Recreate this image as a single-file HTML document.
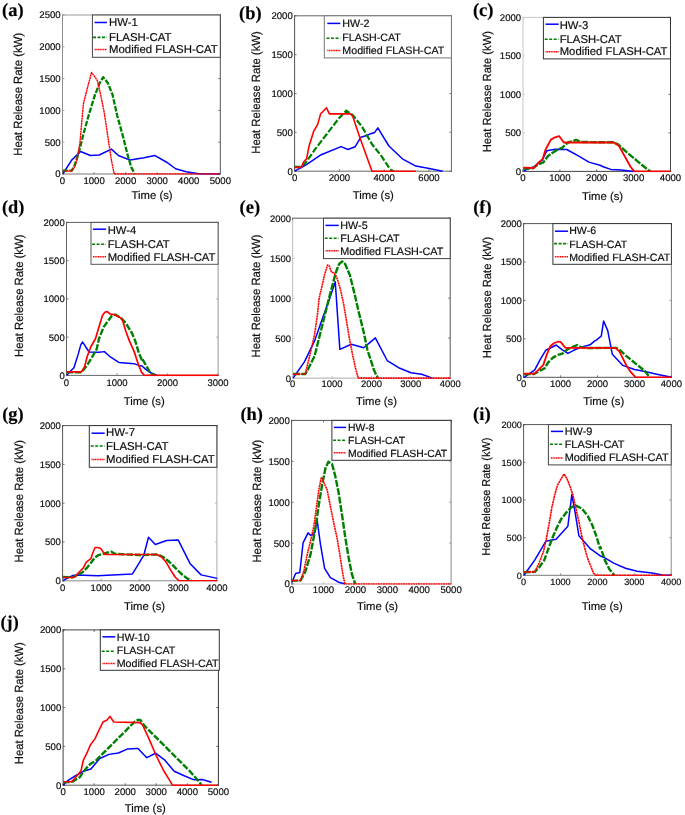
<!DOCTYPE html>
<html><head><meta charset="utf-8"><title>Heat Release Rate comparison</title>
<style>
html,body{margin:0;padding:0;background:#fff;}
body{width:685px;height:815px;overflow:hidden;}
svg{display:block;will-change:transform;}
text{font-family:"Liberation Sans", sans-serif;fill:#0d0d0d;stroke:#0d0d0d;stroke-width:0.18px;text-rendering:geometricPrecision;}
</style></head><body>
<svg width="685" height="815" viewBox="0 0 685 815">
<rect width="685" height="815" fill="#fff"/>
<g><text x="2" y="16.1" style="font-family:'Liberation Serif', serif;font-weight:bold;font-size:18.5px;fill:#000">(a)</text>
<clipPath id="ca"><rect x="62.5" y="14" width="158.5" height="160.8"/></clipPath>
<path d="M62.5 14.5V174.5" stroke="#8c8c8c" stroke-width="1" fill="none"/>
<path d="M62 15H220.8" stroke="#999" stroke-width="1" fill="none"/>
<path d="M220.3 14.5V174.5" stroke="#555" stroke-width="1" fill="none"/>
<path d="M62 174H220.8" stroke="#777" stroke-width="1" fill="none"/>
<path d="M62.5 174h2 M62.5 142.2h2 M62.5 110.4h2 M62.5 78.6h2 M62.5 46.8h2 M62.5 15h2" stroke="#8c8c8c" stroke-width="0.8" fill="none"/>
<path d="M220.3 174h-2 M220.3 142.2h-2 M220.3 110.4h-2 M220.3 78.6h-2 M220.3 46.8h-2 M220.3 15h-2" stroke="#555" stroke-width="0.8" fill="none"/>
<path d="M62.5 174v-2 M94.06 174v-2 M125.62 174v-2 M157.18 174v-2 M188.74 174v-2 M220.3 174v-2" stroke="#777" stroke-width="0.8" fill="none"/>
<path d="M62.5 15v2 M94.06 15v2 M125.62 15v2 M157.18 15v2 M188.74 15v2 M220.3 15v2" stroke="#999" stroke-width="0.8" fill="none"/>
<text x="60.7" y="177.46" text-anchor="end" font-size="9.6">0</text>
<text x="60.7" y="145.66" text-anchor="end" font-size="9.6">500</text>
<text x="60.7" y="113.86" text-anchor="end" font-size="9.6">1000</text>
<text x="60.7" y="82.06" text-anchor="end" font-size="9.6">1500</text>
<text x="60.7" y="50.26" text-anchor="end" font-size="9.6">2000</text>
<text x="60.7" y="18.46" text-anchor="end" font-size="9.6">2500</text>
<text x="62.5" y="184" text-anchor="middle" font-size="9.6">0</text>
<text x="94.06" y="184" text-anchor="middle" font-size="9.6">1000</text>
<text x="125.62" y="184" text-anchor="middle" font-size="9.6">2000</text>
<text x="157.18" y="184" text-anchor="middle" font-size="9.6">3000</text>
<text x="188.74" y="184" text-anchor="middle" font-size="9.6">4000</text>
<text x="220.3" y="184" text-anchor="middle" font-size="9.6">5000</text>
<text transform="translate(21.9 94.3) rotate(-90) scale(1 1.05)" text-anchor="middle" font-size="11.35">Heat Release Rate (kW)</text>
<text x="152.1" y="199.2" text-anchor="middle" font-size="11.3">Time (s)</text>
<g clip-path="url(#ca)" fill="none" stroke-linejoin="round">
<path d="M62.8 174 L71.68 160.11 L80.55 151.47 L90.36 155.44 L99.24 154.97 L111.39 149.13 L118.39 155.44 L130.07 160.11 L144.09 157.77 L154.6 155.44 L166.28 161.98 L175.62 168.75 L186.13 171.79 L200.15 174 L220 174" stroke="#0000ff" stroke-width="1.5"/>
<path d="M62.34 170.62 L71.68 170.62 L74.01 167.12 L78.69 153.1 L83.36 134.42 L89.2 113.39 L95.04 94.71 L99.71 83.03 L103.21 77.19 L107.88 83.03 L112.55 94.71 L117.23 115.73 L123.07 136.75 L127.74 155.44 L131.24 167.12 L134.74 174" stroke="#008000" stroke-width="2.3" stroke-dasharray="5.5 1.5"/>
<path d="M62.34 171.09 L71.68 171.09 L74.48 167.12 L76.35 162.45 L79.85 143.76 L83.36 104.05 L86.86 90.04 L91.53 72.52 L95.04 77.19 L97.37 80.69 L100.88 95.88 L104.38 113.39 L107.88 136.75 L111.39 160.11 L114.19 174 L220 174" stroke="#ff0000" stroke-width="1.4" stroke-dasharray="2.2 0.4"/>
</g>
<rect x="92.4" y="15" width="127.9" height="42.3" fill="#fff" stroke="#444" stroke-width="1"/>
<path d="M94.6 22.5H106.9" stroke="#0000ff" stroke-width="1.5"/>
<path d="M93 37.4H106.9" stroke="#008000" stroke-width="1.6" stroke-dasharray="3 1.5"/>
<path d="M94.6 49.6H106.9" stroke="#ff0000" stroke-width="1.5" stroke-dasharray="1.2 0.5"/>
<text x="109" y="26.3" font-size="11.4">HW-1</text>
<text x="109" y="40.7" font-size="11.4">FLASH-CAT</text>
<text x="109" y="53.4" font-size="11.4">Modified FLASH-CAT</text></g>
<g><text x="239.1" y="18.7" style="font-family:'Liberation Serif', serif;font-weight:bold;font-size:18.4px;fill:#000">(b)</text>
<clipPath id="cb"><rect x="294.6" y="14.8" width="157.5" height="157.2"/></clipPath>
<path d="M294.6 15.3V171.7" stroke="#505050" stroke-width="1" fill="none"/>
<path d="M294.1 15.8H451.9" stroke="#666" stroke-width="1" fill="none"/>
<path d="M451.4 15.3V171.7" stroke="#666" stroke-width="1" fill="none"/>
<path d="M294.1 171.2H451.9" stroke="#666" stroke-width="1" fill="none"/>
<path d="M294.6 171.2h2 M294.6 132.35h2 M294.6 93.5h2 M294.6 54.65h2 M294.6 15.8h2" stroke="#505050" stroke-width="0.8" fill="none"/>
<path d="M451.4 171.2h-2 M451.4 132.35h-2 M451.4 93.5h-2 M451.4 54.65h-2 M451.4 15.8h-2" stroke="#666" stroke-width="0.8" fill="none"/>
<path d="M294.6 171.2v-2 M339.4 171.2v-2 M384.2 171.2v-2 M429 171.2v-2" stroke="#666" stroke-width="0.8" fill="none"/>
<path d="M294.6 15.8v2 M339.4 15.8v2 M384.2 15.8v2 M429 15.8v2" stroke="#666" stroke-width="0.8" fill="none"/>
<text x="292.8" y="174.66" text-anchor="end" font-size="9.6">0</text>
<text x="292.8" y="135.81" text-anchor="end" font-size="9.6">500</text>
<text x="292.8" y="96.96" text-anchor="end" font-size="9.6">1000</text>
<text x="292.8" y="58.11" text-anchor="end" font-size="9.6">1500</text>
<text x="292.8" y="19.26" text-anchor="end" font-size="9.6">2000</text>
<text x="294.6" y="181" text-anchor="middle" font-size="9.6">0</text>
<text x="339.4" y="181" text-anchor="middle" font-size="9.6">2000</text>
<text x="384.2" y="181" text-anchor="middle" font-size="9.6">4000</text>
<text x="429" y="181" text-anchor="middle" font-size="9.6">6000</text>
<text transform="translate(260.3 92.5) rotate(-90) scale(1 1.05)" text-anchor="middle" font-size="11.3">Heat Release Rate (kW)</text>
<text x="373.3" y="199.2" text-anchor="middle" font-size="11.3">Time (s)</text>
<g clip-path="url(#cb)" fill="none" stroke-linejoin="round">
<path d="M294.34 171.2 L301.34 167.59 L307.18 164.09 L321.2 154.74 L341.05 146.57 L348.06 149.49 L355.07 146.8 L360.91 137.23 L366.74 135.47 L372 133.14 L372 133.49 L374.92 132.2 L377.84 127.88 L388.93 145.99 L402.36 158.83 L415.8 166.07 L428.06 168.18 L442.66 171.2" stroke="#0000ff" stroke-width="1.5"/>
<path d="M294.34 166.77 L301.34 166.77 L306.01 162.34 L315.36 148.91 L327.04 133.72 L338.72 118.54 L346.31 110.6 L352.73 115.04 L362.07 126.72 L372 144.23 L381.34 155.91 L390.1 169.34 L393.61 171.2" stroke="#008000" stroke-width="2.2" stroke-dasharray="6.5 2"/>
<path d="M294.34 167.36 L301.34 167.36 L303.68 161.75 L306.6 158.83 L308.93 146.57 L313.61 131.39 L317.69 124.38 L320.61 113.87 L322.95 111.53 L326.45 107.8 L329.37 113.87 L350.39 113.87 L352.73 116.2 L359.74 137.23 L372 171.2 L373.75 171.2 L415.8 171.2" stroke="#ff0000" stroke-width="1.6"/>
</g>
<rect x="324.3" y="15.8" width="127.1" height="42.1" fill="#fff" stroke="#777" stroke-width="1"/>
<path d="M327.3 23.4H340.3" stroke="#0000ff" stroke-width="1.5"/>
<path d="M326.5 38.2H340.3" stroke="#008000" stroke-width="1.6" stroke-dasharray="3 1.5"/>
<path d="M327.3 50.4H340.3" stroke="#ff0000" stroke-width="1.5" stroke-dasharray="1.2 0.5"/>
<text x="342.3" y="26.8" font-size="10.7">HW-2</text>
<text x="342.3" y="40.5" font-size="10.7">FLASH-CAT</text>
<text x="342.3" y="54.3" font-size="10.7">Modified FLASH-CAT</text></g>
<g><text x="472.9" y="16.3" style="font-family:'Liberation Serif', serif;font-weight:bold;font-size:18.6px;fill:#000">(c)</text>
<clipPath id="cc"><rect x="523" y="16.4" width="148.2" height="155.8"/></clipPath>
<path d="M523 16.9V171.9" stroke="#c8c8c8" stroke-width="1" fill="none"/>
<path d="M522.5 17.4H671" stroke="#c8c8c8" stroke-width="1" fill="none"/>
<path d="M670.5 16.9V171.9" stroke="#444" stroke-width="1" fill="none"/>
<path d="M522.5 171.4H671" stroke="#444" stroke-width="1" fill="none"/>
<path d="M523 171.4h2 M523 132.9h2 M523 94.4h2 M523 55.9h2 M523 17.4h2" stroke="#c8c8c8" stroke-width="0.8" fill="none"/>
<path d="M670.5 171.4h-2 M670.5 132.9h-2 M670.5 94.4h-2 M670.5 55.9h-2 M670.5 17.4h-2" stroke="#444" stroke-width="0.8" fill="none"/>
<path d="M523 171.4v-2 M559.88 171.4v-2 M596.75 171.4v-2 M633.62 171.4v-2 M670.5 171.4v-2" stroke="#444" stroke-width="0.8" fill="none"/>
<path d="M523 17.4v2 M559.88 17.4v2 M596.75 17.4v2 M633.62 17.4v2 M670.5 17.4v2" stroke="#c8c8c8" stroke-width="0.8" fill="none"/>
<text x="521.2" y="174.86" text-anchor="end" font-size="9.6">0</text>
<text x="521.2" y="136.36" text-anchor="end" font-size="9.6">500</text>
<text x="521.2" y="97.86" text-anchor="end" font-size="9.6">1000</text>
<text x="521.2" y="59.36" text-anchor="end" font-size="9.6">1500</text>
<text x="521.2" y="20.86" text-anchor="end" font-size="9.6">2000</text>
<text x="523" y="181.3" text-anchor="middle" font-size="9.6">0</text>
<text x="559.88" y="181.3" text-anchor="middle" font-size="9.6">1000</text>
<text x="596.75" y="181.3" text-anchor="middle" font-size="9.6">2000</text>
<text x="633.62" y="181.3" text-anchor="middle" font-size="9.6">3000</text>
<text x="670.5" y="181.3" text-anchor="middle" font-size="9.6">4000</text>
<text transform="translate(490.7 91.7) rotate(-90) scale(1 1.05)" text-anchor="middle" font-size="11.2">Heat Release Rate (kW)</text>
<text x="602.6" y="199.7" text-anchor="middle" font-size="11.3">Time (s)</text>
<g clip-path="url(#cc)" fill="none" stroke-linejoin="round">
<path d="M523.27 171.4 L527.01 169.38 L534.01 166.81 L542.19 160.04 L546.86 150.69 L555.04 149.18 L566.72 149.53 L578.39 155.95 L588.91 162.14 L600 165.29 L603.84 167.04 L610.85 169.38 L621.36 169.96 L634.2 171.4" stroke="#0000ff" stroke-width="1.5"/>
<path d="M523.27 168.8 L532.85 168.21 L537.52 164.71 L543.36 162.37 L548.03 155.95 L553.87 151.86 L558.54 149.18 L562.04 147.77 L567.88 142.52 L573.72 140.77 L576.06 139.95 L580.73 141.93 L600 142.28 L613.18 142.28 L617.85 144.27 L628.36 153.61 L638.88 162.37 L647.05 169.15 L650.55 171.4" stroke="#008000" stroke-width="2.4" stroke-dasharray="7 1.5"/>
<path d="M523.27 167.63 L534.01 167.98 L538.69 162.37 L542.77 158.87 L545.11 150.69 L547.45 146.02 L550.95 139.6 L555.04 137.26 L559.12 136.09 L563.8 142.52 L600 142.52 L613.77 142.52 L619.02 146.02 L624.86 156.53 L630.7 167.04 L634.2 171.4 L670.64 171.4" stroke="#ff0000" stroke-width="1.8"/>
</g>
<rect x="543.4" y="17.4" width="127.1" height="41.5" fill="#fff" stroke="#333" stroke-width="1"/>
<path d="M545.5 24.2H558.7" stroke="#0000ff" stroke-width="1.5"/>
<path d="M544.7 39.2H558.7" stroke="#008000" stroke-width="1.6" stroke-dasharray="3 1.5"/>
<path d="M545.5 51.8H558.7" stroke="#ff0000" stroke-width="1.5" stroke-dasharray="1.2 0.5"/>
<text x="559.7" y="28.7" font-size="11.3">HW-3</text>
<text x="559.7" y="42.5" font-size="11.3">FLASH-CAT</text>
<text x="559.7" y="55.3" font-size="11.3">Modified FLASH-CAT</text></g>
<g><text x="2" y="212.6" style="font-family:'Liberation Serif', serif;font-weight:bold;font-size:18.3px;fill:#000">(d)</text>
<clipPath id="cd"><rect x="66.5" y="221.4" width="152.3" height="154.8"/></clipPath>
<path d="M66.5 221.9V375.9" stroke="#606060" stroke-width="1" fill="none"/>
<path d="M66 222.4H218.6" stroke="#606060" stroke-width="1" fill="none"/>
<path d="M218.1 221.9V375.9" stroke="#999" stroke-width="1" fill="none"/>
<path d="M66 375.4H218.6" stroke="#666" stroke-width="1" fill="none"/>
<path d="M66.5 375.4h2 M66.5 337.15h2 M66.5 298.9h2 M66.5 260.65h2 M66.5 222.4h2" stroke="#606060" stroke-width="0.8" fill="none"/>
<path d="M218.1 375.4h-2 M218.1 337.15h-2 M218.1 298.9h-2 M218.1 260.65h-2 M218.1 222.4h-2" stroke="#999" stroke-width="0.8" fill="none"/>
<path d="M66.5 375.4v-2 M117.03 375.4v-2 M167.57 375.4v-2 M218.1 375.4v-2" stroke="#666" stroke-width="0.8" fill="none"/>
<path d="M66.5 222.4v2 M117.03 222.4v2 M167.57 222.4v2 M218.1 222.4v2" stroke="#606060" stroke-width="0.8" fill="none"/>
<text x="64.7" y="378.82" text-anchor="end" font-size="9.5">0</text>
<text x="64.7" y="340.57" text-anchor="end" font-size="9.5">500</text>
<text x="64.7" y="302.32" text-anchor="end" font-size="9.5">1000</text>
<text x="64.7" y="264.07" text-anchor="end" font-size="9.5">1500</text>
<text x="64.7" y="225.82" text-anchor="end" font-size="9.5">2000</text>
<text x="66.5" y="385.5" text-anchor="middle" font-size="9.5">0</text>
<text x="117.03" y="385.5" text-anchor="middle" font-size="9.5">1000</text>
<text x="167.57" y="385.5" text-anchor="middle" font-size="9.5">2000</text>
<text x="218.1" y="385.5" text-anchor="middle" font-size="9.5">3000</text>
<text transform="translate(22.5 295.8) rotate(-90) scale(1 1.05)" text-anchor="middle" font-size="11.3">Heat Release Rate (kW)</text>
<text x="144.2" y="405.2" text-anchor="middle" font-size="11.3">Time (s)</text>
<g clip-path="url(#cd)" fill="none" stroke-linejoin="round">
<path d="M66.57 375.4 L69.84 371.82 L73.93 367.74 L78.01 354.89 L80.93 344.38 L82.69 342.04 L85.61 346.72 L89.11 351.97 L99.04 352.32 L104.29 351.62 L110.72 357.23 L118.89 362.48 L134.07 363.65 L138.74 365.4 L142 365.99 L146.67 370.07 L151.34 372.99 L157.18 375.4" stroke="#0000ff" stroke-width="1.5"/>
<path d="M66.57 372.41 L81.52 372.18 L86.19 366.57 L92.03 357.23 L96.7 349.05 L99.04 338.54 L103.71 326.86 L108.38 320.44 L111.88 315.77 L115.39 314.6 L121.23 318.1 L125.9 323.36 L131.74 332.7 L135.24 340.88 L138.74 352.55 L141.66 359.56 L142 358.39 L146.67 366.57 L150.76 373.58 L154.85 375.4" stroke="#008000" stroke-width="2.4" stroke-dasharray="6.5 1.7"/>
<path d="M66.57 371.82 L81.52 371.82 L84.44 367.15 L87.36 356.06 L90.86 346.72 L95.53 338.54 L99.04 326.86 L102.54 315.18 L104.88 312.26 L107.21 311.68 L110.13 314.01 L114.22 314.6 L120.06 317.52 L122.39 319.85 L125.9 331.53 L129.4 340.88 L134.07 351.39 L138.74 365.4 L141.66 372.41 L144.34 375.4 L218.5 375.4" stroke="#ff0000" stroke-width="1.7"/>
</g>
<rect x="91" y="222.4" width="127.1" height="41.9" fill="#fff" stroke="#555" stroke-width="1"/>
<path d="M92.9 229.2H106.1" stroke="#0000ff" stroke-width="1.5"/>
<path d="M92.1 244.2H106.1" stroke="#008000" stroke-width="1.6" stroke-dasharray="3 1.5"/>
<path d="M92.9 256.8H106.1" stroke="#ff0000" stroke-width="1.5" stroke-dasharray="1.2 0.5"/>
<text x="107.7" y="233.7" font-size="11.3">HW-4</text>
<text x="107.7" y="247.5" font-size="11.3">FLASH-CAT</text>
<text x="107.7" y="260.7" font-size="11.3">Modified FLASH-CAT</text></g>
<g><text x="239.6" y="212.6" style="font-family:'Liberation Serif', serif;font-weight:bold;font-size:18.5px;fill:#000">(e)</text>
<clipPath id="ce"><rect x="292.7" y="217.2" width="158.2" height="161.7"/></clipPath>
<path d="M292.7 217.7V378.6" stroke="#bbbbbb" stroke-width="1" fill="none"/>
<path d="M292.2 218.2H450.7" stroke="#555" stroke-width="1" fill="none"/>
<path d="M450.2 217.7V378.6" stroke="#555" stroke-width="1" fill="none"/>
<path d="M292.2 378.1H450.7" stroke="#aaa" stroke-width="1" fill="none"/>
<path d="M292.7 378.1h2 M292.7 338.12h2 M292.7 298.15h2 M292.7 258.18h2 M292.7 218.2h2" stroke="#bbbbbb" stroke-width="0.8" fill="none"/>
<path d="M450.2 378.1h-2 M450.2 338.12h-2 M450.2 298.15h-2 M450.2 258.18h-2 M450.2 218.2h-2" stroke="#555" stroke-width="0.8" fill="none"/>
<path d="M292.7 378.1v-2 M332.07 378.1v-2 M371.45 378.1v-2 M410.82 378.1v-2 M450.2 378.1v-2" stroke="#aaa" stroke-width="0.8" fill="none"/>
<path d="M292.7 218.2v2 M332.07 218.2v2 M371.45 218.2v2 M410.82 218.2v2 M450.2 218.2v2" stroke="#555" stroke-width="0.8" fill="none"/>
<text x="290.9" y="381.5" text-anchor="end" font-size="9.45">0</text>
<text x="290.9" y="341.53" text-anchor="end" font-size="9.45">500</text>
<text x="290.9" y="301.55" text-anchor="end" font-size="9.45">1000</text>
<text x="290.9" y="261.58" text-anchor="end" font-size="9.45">1500</text>
<text x="290.9" y="221.6" text-anchor="end" font-size="9.45">2000</text>
<text x="292.7" y="387.3" text-anchor="middle" font-size="9.45">0</text>
<text x="332.07" y="387.3" text-anchor="middle" font-size="9.45">1000</text>
<text x="371.45" y="387.3" text-anchor="middle" font-size="9.45">2000</text>
<text x="410.82" y="387.3" text-anchor="middle" font-size="9.45">3000</text>
<text x="450.2" y="387.3" text-anchor="middle" font-size="9.45">4000</text>
<text transform="translate(260.3 296) rotate(-90) scale(1 1.05)" text-anchor="middle" font-size="11.35">Heat Release Rate (kW)</text>
<text x="376.5" y="404.9" text-anchor="middle" font-size="11.3">Time (s)</text>
<g clip-path="url(#ce)" fill="none" stroke-linejoin="round">
<path d="M293.07 378.1 L304.57 361.6 L314.54 340.89 L323.74 314.82 L329.88 297.94 L335.25 281.84 L339.85 349.33 L351.35 344.26 L363.62 347.79 L370.06 342.42 L375.36 337.82 L387.17 360.52 L398.67 367.73 L410.94 372.79 L421.68 374.33 L432.42 378.1" stroke="#0000ff" stroke-width="1.5"/>
<path d="M293.07 374.02 L305.34 374.02 L308.4 368.5 L314.54 356.23 L319.14 337.82 L323.74 319.42 L329.88 294.88 L336.01 271.87 L339.08 264.2 L342.15 261.44 L345.21 264.2 L349.82 274.94 L354.42 293.34 L359.02 313.28 L363.62 331.69 L367.45 350.09 L371.07 360.83 L373.37 368.5 L375.67 373.87 L377.97 378.1" stroke="#008000" stroke-width="2.4" stroke-dasharray="7 1.4"/>
<path d="M293.07 374.33 L305.34 373.87 L309.94 354.69 L314.54 334.75 L317.61 313.28 L319.14 297.94 L321.44 288.74 L324.51 274.94 L327.58 264.97 L329.11 265.74 L331.41 271.87 L334.48 273.4 L337.55 279.54 L340.61 290.28 L343.68 304.08 L346.75 322.48 L349.82 340.89 L352.88 356.23 L355.95 370.03 L358.25 378.1 L370.06 378.1 L450.82 378.1" stroke="#ff0000" stroke-width="1.6" stroke-dasharray="2 0.5"/>
</g>
<rect x="323.5" y="218.2" width="126.7" height="40.4" fill="#fff" stroke="#444" stroke-width="1"/>
<path d="M325.5 225.4H338.7" stroke="#0000ff" stroke-width="1.5"/>
<path d="M324.7 238.2H338.7" stroke="#008000" stroke-width="1.6" stroke-dasharray="3 1.5"/>
<path d="M325.5 250.8H338.7" stroke="#ff0000" stroke-width="1.5" stroke-dasharray="1.2 0.5"/>
<text x="340.3" y="228.8" font-size="10.8">HW-5</text>
<text x="340.3" y="241.6" font-size="10.8">FLASH-CAT</text>
<text x="340.3" y="255" font-size="10.8">Modified FLASH-CAT</text></g>
<g><text x="473.2" y="212.6" style="font-family:'Liberation Serif', serif;font-weight:bold;font-size:18.4px;fill:#000">(f)</text>
<clipPath id="cf"><rect x="523.6" y="222.6" width="148.5" height="155.5"/></clipPath>
<path d="M523.6 223.1V377.8" stroke="#555" stroke-width="1" fill="none"/>
<path d="M523.1 223.6H671.9" stroke="#555" stroke-width="1" fill="none"/>
<path d="M671.4 223.1V377.8" stroke="#888" stroke-width="1" fill="none"/>
<path d="M523.1 377.3H671.9" stroke="#555" stroke-width="1" fill="none"/>
<path d="M523.6 377.3h2 M523.6 338.88h2 M523.6 300.45h2 M523.6 262.02h2 M523.6 223.6h2" stroke="#555" stroke-width="0.8" fill="none"/>
<path d="M671.4 377.3h-2 M671.4 338.88h-2 M671.4 300.45h-2 M671.4 262.02h-2 M671.4 223.6h-2" stroke="#888" stroke-width="0.8" fill="none"/>
<path d="M523.6 377.3v-2 M560.55 377.3v-2 M597.5 377.3v-2 M634.45 377.3v-2 M671.4 377.3v-2" stroke="#555" stroke-width="0.8" fill="none"/>
<path d="M523.6 223.6v2 M560.55 223.6v2 M597.5 223.6v2 M634.45 223.6v2 M671.4 223.6v2" stroke="#555" stroke-width="0.8" fill="none"/>
<text x="521.8" y="380.72" text-anchor="end" font-size="9.5">0</text>
<text x="521.8" y="342.3" text-anchor="end" font-size="9.5">500</text>
<text x="521.8" y="303.87" text-anchor="end" font-size="9.5">1000</text>
<text x="521.8" y="265.44" text-anchor="end" font-size="9.5">1500</text>
<text x="521.8" y="227.02" text-anchor="end" font-size="9.5">2000</text>
<text x="523.6" y="387.3" text-anchor="middle" font-size="9.5">0</text>
<text x="560.55" y="387.3" text-anchor="middle" font-size="9.5">1000</text>
<text x="597.5" y="387.3" text-anchor="middle" font-size="9.5">2000</text>
<text x="634.45" y="387.3" text-anchor="middle" font-size="9.5">3000</text>
<text x="671.4" y="387.3" text-anchor="middle" font-size="9.5">4000</text>
<text transform="translate(490.7 297.5) rotate(-90) scale(1 1.05)" text-anchor="middle" font-size="11.2">Heat Release Rate (kW)</text>
<text x="603.7" y="405.2" text-anchor="middle" font-size="11.3">Time (s)</text>
<g clip-path="url(#cf)" fill="none" stroke-linejoin="round">
<path d="M524.09 377.3 L529.34 373.65 L534.6 370.15 L539.85 360.22 L545.69 350.29 L550.36 347.96 L556.2 345.04 L562.04 349.71 L567.88 353.45 L573.72 350.29 L580.73 347.37 L590.07 344.8 L594.74 340.95 L596 340.29 L601.26 336.2 L603.59 321.02 L607.68 330.36 L612.35 354.31 L622.86 365.4 L634.54 369.49 L645.05 371.47 L656.73 374.16 L671.68 377.3" stroke="#0000ff" stroke-width="1.5"/>
<path d="M524.09 374.23 L534.01 374 L539.85 370.73 L544.53 368.39 L548.03 362.55 L552.7 357.88 L557.37 354.96 L562.04 353.8 L567.88 349.12 L572.55 346.79 L577.23 345.04 L580.73 347.14 L585.4 347.96 L615.85 347.88 L619.36 349.64 L626.36 356.06 L635.71 363.65 L645.05 371.24 L649.72 377.3" stroke="#008000" stroke-width="2.4" stroke-dasharray="6.5 1.7"/>
<path d="M524.09 373.65 L534.6 373.65 L538.69 369.56 L543.36 364.89 L546.86 354.38 L550.36 346.2 L553.87 343.28 L558.54 341.53 L560.88 342.12 L565.55 347.96 L615.27 347.88 L619.36 351.39 L626.36 365.4 L631.04 372.41 L635.71 377.3 L671.68 377.3" stroke="#ff0000" stroke-width="1.8"/>
</g>
<rect x="552.9" y="223.6" width="118.5" height="40.7" fill="#fff" stroke="#333" stroke-width="1"/>
<path d="M554.9 231.2H568.1" stroke="#0000ff" stroke-width="1.5"/>
<path d="M554.1 243.6H568.1" stroke="#008000" stroke-width="1.6" stroke-dasharray="3 1.5"/>
<path d="M554.9 256.8H568.1" stroke="#ff0000" stroke-width="1.5" stroke-dasharray="1.2 0.5"/>
<text x="569.2" y="234.4" font-size="10.6">HW-6</text>
<text x="569.2" y="247.6" font-size="10.6">FLASH-CAT</text>
<text x="569.2" y="260.8" font-size="10.6">Modified FLASH-CAT</text></g>
<g><text x="2.2" y="419.6" style="font-family:'Liberation Serif', serif;font-weight:bold;font-size:18.4px;fill:#000">(g)</text>
<clipPath id="cg"><rect x="62.6" y="424.6" width="155" height="157"/></clipPath>
<path d="M62.6 425.1V581.3" stroke="#555" stroke-width="1" fill="none"/>
<path d="M62.1 425.6H217.4" stroke="#555" stroke-width="1" fill="none"/>
<path d="M216.9 425.1V581.3" stroke="#aaa" stroke-width="1" fill="none"/>
<path d="M62.1 580.8H217.4" stroke="#888" stroke-width="1" fill="none"/>
<path d="M62.6 580.8h2 M62.6 542h2 M62.6 503.2h2 M62.6 464.4h2 M62.6 425.6h2" stroke="#555" stroke-width="0.8" fill="none"/>
<path d="M216.9 580.8h-2 M216.9 542h-2 M216.9 503.2h-2 M216.9 464.4h-2 M216.9 425.6h-2" stroke="#aaa" stroke-width="0.8" fill="none"/>
<path d="M62.6 580.8v-2 M101.18 580.8v-2 M139.75 580.8v-2 M178.33 580.8v-2 M216.9 580.8v-2" stroke="#888" stroke-width="0.8" fill="none"/>
<path d="M62.6 425.6v2 M101.18 425.6v2 M139.75 425.6v2 M178.33 425.6v2 M216.9 425.6v2" stroke="#555" stroke-width="0.8" fill="none"/>
<text x="60.8" y="584.22" text-anchor="end" font-size="9.5">0</text>
<text x="60.8" y="545.42" text-anchor="end" font-size="9.5">500</text>
<text x="60.8" y="506.62" text-anchor="end" font-size="9.5">1000</text>
<text x="60.8" y="467.82" text-anchor="end" font-size="9.5">1500</text>
<text x="60.8" y="429.02" text-anchor="end" font-size="9.5">2000</text>
<text x="62.6" y="591" text-anchor="middle" font-size="9.5">0</text>
<text x="101.18" y="591" text-anchor="middle" font-size="9.5">1000</text>
<text x="139.75" y="591" text-anchor="middle" font-size="9.5">2000</text>
<text x="178.33" y="591" text-anchor="middle" font-size="9.5">3000</text>
<text x="216.9" y="591" text-anchor="middle" font-size="9.5">4000</text>
<text transform="translate(22.5 501.2) rotate(-90) scale(1 1.05)" text-anchor="middle" font-size="11.3">Heat Release Rate (kW)</text>
<text x="144.6" y="610.2" text-anchor="middle" font-size="11.3">Time (s)</text>
<g clip-path="url(#cg)" fill="none" stroke-linejoin="round">
<path d="M62.57 580.8 L67.01 578.39 L72.85 575.47 L77.52 575.12 L97.37 575.82 L132.41 573.96 L138 564.96 L143.84 555.04 L148.51 537.28 L155.28 544.53 L166.61 540.44 L178.29 540.09 L189.97 563.45 L201.07 574.89 L217.42 578.39" stroke="#0000ff" stroke-width="1.5"/>
<path d="M62.57 576.99 L72.85 577.23 L77.52 574.89 L82.19 572.55 L86.86 567.88 L91.53 562.04 L95.04 557.37 L98.54 555.04 L103.21 553.87 L106.72 552.7 L111.39 551.77 L114.89 553.87 L140 555.04 L157.85 554.45 L163.69 557.37 L169.53 562.04 L175.37 567.88 L181.21 573.72 L187.05 578.39 L191.72 580.8" stroke="#008000" stroke-width="2.4" stroke-dasharray="6.5 1.7"/>
<path d="M62.57 577.46 L72.85 577.46 L75.18 576.64 L77.52 573.72 L80.44 570.8 L83.36 567.88 L86.28 562.04 L88.61 560.29 L90.95 558.54 L92.7 553.28 L95.04 547.45 L97.37 547.45 L100.29 548.26 L102.04 550.36 L104.96 554.45 L156.69 554.45 L161.36 556.79 L166.03 562.04 L170.7 570.22 L175.37 577.23 L178.88 580.8 L217.42 580.8" stroke="#ff0000" stroke-width="1.6"/>
</g>
<rect x="89.3" y="425.6" width="127.6" height="41.7" fill="#fff" stroke="#333" stroke-width="1"/>
<path d="M91.5 433.2H104.7" stroke="#0000ff" stroke-width="1.5"/>
<path d="M90.7 446H104.7" stroke="#008000" stroke-width="1.6" stroke-dasharray="3 1.5"/>
<path d="M91.5 459.4H104.7" stroke="#ff0000" stroke-width="1.5" stroke-dasharray="1.2 0.5"/>
<text x="106.1" y="436.4" font-size="11.4">HW-7</text>
<text x="106.1" y="449.6" font-size="11.4">FLASH-CAT</text>
<text x="106.1" y="463.4" font-size="11.4">Modified FLASH-CAT</text></g>
<g><text x="240.5" y="419.6" style="font-family:'Liberation Serif', serif;font-weight:bold;font-size:18.4px;fill:#000">(h)</text>
<clipPath id="ch"><rect x="291.6" y="419.4" width="160.2" height="165.4"/></clipPath>
<path d="M291.6 419.9V584.5" stroke="#555" stroke-width="1" fill="none"/>
<path d="M291.1 420.4H451.6" stroke="#555" stroke-width="1" fill="none"/>
<path d="M451.1 419.9V584.5" stroke="#888" stroke-width="1" fill="none"/>
<path d="M291.1 584H451.6" stroke="#bbb" stroke-width="1" fill="none"/>
<path d="M291.6 584h2 M291.6 543.1h2 M291.6 502.2h2 M291.6 461.3h2 M291.6 420.4h2" stroke="#555" stroke-width="0.8" fill="none"/>
<path d="M451.1 584h-2 M451.1 543.1h-2 M451.1 502.2h-2 M451.1 461.3h-2 M451.1 420.4h-2" stroke="#888" stroke-width="0.8" fill="none"/>
<path d="M291.6 584v-2 M323.5 584v-2 M355.4 584v-2 M387.3 584v-2 M419.2 584v-2 M451.1 584v-2" stroke="#bbb" stroke-width="0.8" fill="none"/>
<path d="M291.6 420.4v2 M323.5 420.4v2 M355.4 420.4v2 M387.3 420.4v2 M419.2 420.4v2 M451.1 420.4v2" stroke="#555" stroke-width="0.8" fill="none"/>
<text x="289.8" y="587.46" text-anchor="end" font-size="9.6">0</text>
<text x="289.8" y="546.56" text-anchor="end" font-size="9.6">500</text>
<text x="289.8" y="505.66" text-anchor="end" font-size="9.6">1000</text>
<text x="289.8" y="464.76" text-anchor="end" font-size="9.6">1500</text>
<text x="289.8" y="423.86" text-anchor="end" font-size="9.6">2000</text>
<text x="291.6" y="593" text-anchor="middle" font-size="9.6">0</text>
<text x="323.5" y="593" text-anchor="middle" font-size="9.6">1000</text>
<text x="355.4" y="593" text-anchor="middle" font-size="9.6">2000</text>
<text x="387.3" y="593" text-anchor="middle" font-size="9.6">3000</text>
<text x="419.2" y="593" text-anchor="middle" font-size="9.6">4000</text>
<text x="451.1" y="593" text-anchor="middle" font-size="9.6">5000</text>
<text transform="translate(260.8 501.1) rotate(-90) scale(1 1.05)" text-anchor="middle" font-size="11.35">Heat Release Rate (kW)</text>
<text x="377.6" y="610" text-anchor="middle" font-size="11.3">Time (s)</text>
<g clip-path="url(#ch)" fill="none" stroke-linejoin="round">
<path d="M291.15 584 L295.63 573.44 L299.77 572.61 L303.08 542.79 L308.05 532.85 L310.53 535.34 L313.85 534.51 L317.16 520.43 L320.47 544.45 L324.61 568.47 L330.41 577.58 L338.69 582.21 L345.32 584" stroke="#0000ff" stroke-width="1.5"/>
<path d="M291.15 580.89 L300.6 580.56 L305.56 570.95 L310.53 554.39 L315.5 527.88 L318.82 504.69 L322.13 484.82 L325.44 468.25 L328.42 461.63 L332.07 464.11 L335.38 476.53 L338.69 493.1 L342.01 514.63 L345.32 537.82 L348.63 557.7 L351.94 574.26 L355.26 584" stroke="#008000" stroke-width="2.4" stroke-dasharray="7 1.5"/>
<path d="M291.15 580.56 L300.6 580.56 L303.91 570.95 L307.22 554.39 L310.53 541.13 L313.85 526.23 L316.33 508.01 L318.82 489.79 L321.3 477.36 L323.79 482.33 L327.1 489.79 L330.41 506.35 L333.72 522.91 L337.04 537.82 L340.35 557.7 L342.83 574.26 L344.99 584 L369.01 584 L451.23 584" stroke="#ff0000" stroke-width="1.6" stroke-dasharray="2 0.5"/>
</g>
<rect x="331.9" y="420.4" width="119.2" height="39.9" fill="#fff" stroke="#333" stroke-width="1"/>
<path d="M333.9 427.4H346.1" stroke="#0000ff" stroke-width="1.5"/>
<path d="M333.1 440.2H346.1" stroke="#008000" stroke-width="1.6" stroke-dasharray="3 1.5"/>
<path d="M333.9 452.8H346.1" stroke="#ff0000" stroke-width="1.5" stroke-dasharray="1.2 0.5"/>
<text x="348.1" y="430.8" font-size="10.4">HW-8</text>
<text x="348.1" y="444" font-size="10.4">FLASH-CAT</text>
<text x="348.1" y="457" font-size="10.4">Modified FLASH-CAT</text></g>
<g><text x="473.1" y="419.6" style="font-family:'Liberation Serif', serif;font-weight:bold;font-size:18.6px;fill:#000">(i)</text>
<clipPath id="ci"><rect x="523.6" y="423.6" width="148.3" height="152.5"/></clipPath>
<path d="M523.6 424.1V575.8" stroke="#555" stroke-width="1" fill="none"/>
<path d="M523.1 424.6H671.7" stroke="#555" stroke-width="1" fill="none"/>
<path d="M671.2 424.1V575.8" stroke="#888" stroke-width="1" fill="none"/>
<path d="M523.1 575.3H671.7" stroke="#777" stroke-width="1" fill="none"/>
<path d="M523.6 575.3h2 M523.6 537.62h2 M523.6 499.95h2 M523.6 462.27h2 M523.6 424.6h2" stroke="#555" stroke-width="0.8" fill="none"/>
<path d="M671.2 575.3h-2 M671.2 537.62h-2 M671.2 499.95h-2 M671.2 462.27h-2 M671.2 424.6h-2" stroke="#888" stroke-width="0.8" fill="none"/>
<path d="M523.6 575.3v-2 M560.5 575.3v-2 M597.4 575.3v-2 M634.3 575.3v-2 M671.2 575.3v-2" stroke="#777" stroke-width="0.8" fill="none"/>
<path d="M523.6 424.6v2 M560.5 424.6v2 M597.4 424.6v2 M634.3 424.6v2 M671.2 424.6v2" stroke="#555" stroke-width="0.8" fill="none"/>
<text x="521.8" y="578.59" text-anchor="end" font-size="9.15">0</text>
<text x="521.8" y="540.92" text-anchor="end" font-size="9.15">500</text>
<text x="521.8" y="503.24" text-anchor="end" font-size="9.15">1000</text>
<text x="521.8" y="465.57" text-anchor="end" font-size="9.15">1500</text>
<text x="521.8" y="427.89" text-anchor="end" font-size="9.15">2000</text>
<text x="523.6" y="584.7" text-anchor="middle" font-size="9.15">0</text>
<text x="560.5" y="584.7" text-anchor="middle" font-size="9.15">1000</text>
<text x="597.4" y="584.7" text-anchor="middle" font-size="9.15">2000</text>
<text x="634.3" y="584.7" text-anchor="middle" font-size="9.15">3000</text>
<text x="671.2" y="584.7" text-anchor="middle" font-size="9.15">4000</text>
<text transform="translate(490.3 496.7) rotate(-90) scale(1 1.05)" text-anchor="middle" font-size="10.9">Heat Release Rate (kW)</text>
<text x="602.2" y="610.2" text-anchor="middle" font-size="11.3">Time (s)</text>
<g clip-path="url(#ci)" fill="none" stroke-linejoin="round">
<path d="M523.98 575.3 L534.72 560.12 L545.77 541.28 L556.07 539.21 L567.85 526.26 L571.83 494.6 L575.21 513.01 L578.9 535.83 L589.94 548.34 L599.95 555.71 L604.83 557.91 L613.67 563.07 L625.45 568.22 L637.23 571.17 L651.95 573.08 L663.73 575.3 L671.53 575.3" stroke="#0000ff" stroke-width="1.5"/>
<path d="M523.98 572.2 L534.72 571.9 L539.14 567.48 L544.29 560.12 L547.98 549.82 L552.39 538.04 L556.81 527.73 L561.23 518.9 L567.12 511.53 L571.53 507.12 L575.95 505.64 L581.84 508.59 L587.73 515.95 L592.15 524.79 L596.56 536.56 L599.95 548.34 L600.42 546.87 L604.83 560.12 L609.25 568.96 L614.4 575.3" stroke="#008000" stroke-width="2.4" stroke-dasharray="6.5 1.7"/>
<path d="M523.98 571.9 L534.72 571.9 L539.14 563.07 L543.56 551.29 L546.5 538.04 L549.45 521.84 L551.66 508.59 L554.6 495.34 L557.55 485.03 L560.49 479.88 L564.17 473.99 L567.12 479.14 L570.06 486.5 L573.01 495.34 L575.95 508.59 L578.9 521.84 L581.84 536.56 L584.79 548.34 L587.73 558.65 L590.67 566.01 L593.62 573.37 L595.83 575.3 L599.95 575.3 L671.53 575.3" stroke="#ff0000" stroke-width="1.6" stroke-dasharray="2.2 0.45"/>
</g>
<rect x="548.4" y="424.6" width="122.8" height="40.3" fill="#fff" stroke="#444" stroke-width="1"/>
<path d="M550.9 431.4H563.1" stroke="#0000ff" stroke-width="1.5"/>
<path d="M550.1 444.2H563.1" stroke="#008000" stroke-width="1.6" stroke-dasharray="3 1.5"/>
<path d="M550.9 458H563.1" stroke="#ff0000" stroke-width="1.5" stroke-dasharray="1.2 0.5"/>
<text x="564.7" y="434.8" font-size="10.9">HW-9</text>
<text x="564.7" y="448" font-size="10.9">FLASH-CAT</text>
<text x="564.7" y="461.4" font-size="10.9">Modified FLASH-CAT</text></g>
<g><text x="0.6" y="627.6" style="font-family:'Liberation Serif', serif;font-weight:bold;font-size:18.1px;fill:#000">(j)</text>
<clipPath id="cj"><rect x="63.1" y="628.9" width="156" height="157.1"/></clipPath>
<path d="M63.1 629.4V785.7" stroke="#444" stroke-width="1" fill="none"/>
<path d="M62.6 629.9H218.9" stroke="#444" stroke-width="1" fill="none"/>
<path d="M218.4 629.4V785.7" stroke="#333" stroke-width="1" fill="none"/>
<path d="M62.6 785.2H218.9" stroke="#555" stroke-width="1" fill="none"/>
<path d="M63.1 785.2h2 M63.1 746.38h2 M63.1 707.55h2 M63.1 668.73h2 M63.1 629.9h2" stroke="#444" stroke-width="0.8" fill="none"/>
<path d="M218.4 785.2h-2 M218.4 746.38h-2 M218.4 707.55h-2 M218.4 668.73h-2 M218.4 629.9h-2" stroke="#333" stroke-width="0.8" fill="none"/>
<path d="M63.1 785.2v-2 M94.16 785.2v-2 M125.22 785.2v-2 M156.28 785.2v-2 M187.34 785.2v-2 M218.4 785.2v-2" stroke="#555" stroke-width="0.8" fill="none"/>
<path d="M63.1 629.9v2 M94.16 629.9v2 M125.22 629.9v2 M156.28 629.9v2 M187.34 629.9v2 M218.4 629.9v2" stroke="#444" stroke-width="0.8" fill="none"/>
<text x="61.3" y="788.66" text-anchor="end" font-size="9.6">0</text>
<text x="61.3" y="749.83" text-anchor="end" font-size="9.6">500</text>
<text x="61.3" y="711.01" text-anchor="end" font-size="9.6">1000</text>
<text x="61.3" y="672.18" text-anchor="end" font-size="9.6">1500</text>
<text x="61.3" y="633.36" text-anchor="end" font-size="9.6">2000</text>
<text x="63.1" y="795" text-anchor="middle" font-size="9.6">0</text>
<text x="94.16" y="795" text-anchor="middle" font-size="9.6">1000</text>
<text x="125.22" y="795" text-anchor="middle" font-size="9.6">2000</text>
<text x="156.28" y="795" text-anchor="middle" font-size="9.6">3000</text>
<text x="187.34" y="795" text-anchor="middle" font-size="9.6">4000</text>
<text x="218.4" y="795" text-anchor="middle" font-size="9.6">5000</text>
<text transform="translate(22.5 703.2) rotate(-90) scale(1 1.05)" text-anchor="middle" font-size="11.25">Heat Release Rate (kW)</text>
<text x="145.3" y="811.5" text-anchor="middle" font-size="11.3">Time (s)</text>
<g clip-path="url(#cj)" fill="none" stroke-linejoin="round">
<path d="M63.27 785.2 L67.01 781.24 L75.18 775.99 L83.36 771.31 L90.95 768.98 L99.71 758.47 L109.05 754.38 L118.39 752.98 L127.74 748.89 L136.5 748.54 L138 748.54 L146.76 757.65 L155.52 753.21 L164.86 760.22 L174.2 771.31 L184.72 775.99 L194.06 779.84 L202.23 779.49 L211.58 782.18" stroke="#0000ff" stroke-width="1.5"/>
<path d="M63.27 782.41 L71.68 781.82 L75.18 780.07 L79.85 777.15 L83.36 771.9 L88.03 766.06 L91.53 763.14 L95.04 761.39 L100.88 755.55 L109.05 747.37 L118.39 738.03 L127.74 728.69 L134.74 721.68 L138 719.93 L140.34 719.93 L145.01 726.35 L152.01 733.36 L161.36 742.7 L170.7 752.04 L180.04 761.39 L189.39 770.73 L197.56 780.07 L201.65 785.2" stroke="#008000" stroke-width="2.4" stroke-dasharray="6.5 1.7"/>
<path d="M63.27 781.82 L71.68 781.82 L76.35 776.57 L81.02 770.73 L83.36 760.22 L86.86 753.21 L90.36 745.04 L95.04 738.61 L98.54 731.02 L103.21 721.68 L106.72 720.28 L109.99 716.42 L113.72 722.03 L140 722.61 L142.67 725.18 L149.68 740.36 L156.69 756.72 L163.69 770.73 L169.53 780.07 L172.45 785.2 L218 785.2" stroke="#ff0000" stroke-width="1.6"/>
</g>
<rect x="100.3" y="629.9" width="119" height="40.4" fill="#fff" stroke="#333" stroke-width="1"/>
<path d="M102.5 636.8H115.3" stroke="#0000ff" stroke-width="1.5"/>
<path d="M101.7 651.2H115.3" stroke="#008000" stroke-width="1.6" stroke-dasharray="3 1.5"/>
<path d="M102.5 663.4H115.3" stroke="#ff0000" stroke-width="1.5" stroke-dasharray="1.2 0.5"/>
<text x="116.7" y="640.7" font-size="10.7">HW-10</text>
<text x="116.7" y="653.9" font-size="10.7">FLASH-CAT</text>
<text x="116.7" y="666.9" font-size="10.7">Modified FLASH-CAT</text></g>
</svg>
</body></html>
